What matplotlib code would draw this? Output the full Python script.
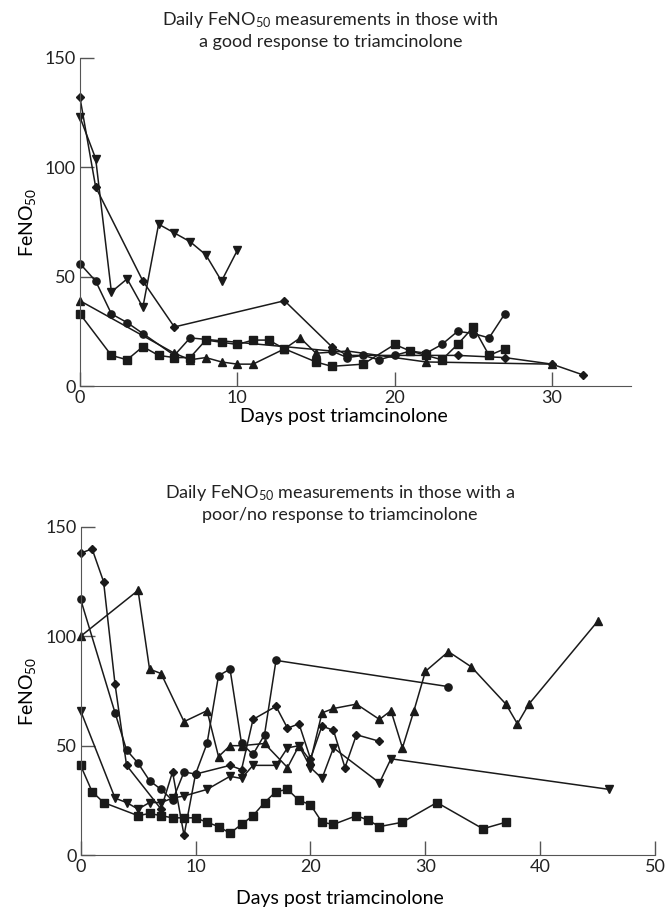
import matplotlib
matplotlib.use('Agg')
import matplotlib.pyplot as plt

plt.rcParams['font.family'] = ['Lato', 'DejaVu Sans']
plt.rcParams['mathtext.default'] = 'regular'

# ---------------- good response (top panel) ----------------
good_diamond_days = [0, 1, 4, 6, 13, 16, 17, 24, 27, 30, 32]
good_diamond_vals = [132, 91, 48, 27, 39, 18, 14, 14, 13, 10, 5]

good_tridown_days = [0, 1, 2, 3, 4, 5, 6, 7, 8, 9, 10]
good_tridown_vals = [123, 104, 43, 49, 36, 74, 70, 66, 60, 48, 62]

good_circle_days = [0, 1, 2, 3, 4, 6, 7, 16, 17, 18, 19, 20, 21, 22, 23, 24, 25, 26, 27]
good_circle_vals = [56, 48, 33, 29, 24, 14, 22, 16, 13, 14, 12, 14, 16, 15, 19, 25, 24, 22, 33]

good_triup_days = [0, 6, 7, 8, 9, 10, 11, 13, 14, 15, 17, 22, 30]
good_triup_vals = [39, 15, 12, 13, 11, 10, 10, 17, 22, 15, 16, 11, 10]

good_square_days = [0, 2, 3, 4, 5, 6, 7, 8, 9, 10, 11, 12, 13, 15, 16, 18, 20, 21, 22, 23, 24, 25, 26, 27]
good_square_vals = [33, 14, 12, 18, 14, 13, 13, 21, 20, 19, 21, 21, 17, 11, 9, 10, 19, 16, 14, 12, 19, 27, 14, 17]

# ---------------- poor/no response (bottom panel) ----------------
poor_diamond_days = [0, 1, 2, 3, 4, 7, 8, 9, 10, 13, 14, 15, 17, 18, 19, 20, 21, 22, 23, 24, 26]
poor_diamond_vals = [138, 140, 125, 78, 41, 21, 38, 9, 37, 41, 39, 62, 68, 58, 60, 44, 59, 57, 40, 55, 52]

poor_circle_days = [0, 3, 4, 5, 6, 7, 8, 9, 10, 11, 12, 13, 14, 15, 16, 17, 32]
poor_circle_vals = [117, 65, 48, 42, 34, 30, 25, 38, 37, 51, 82, 85, 51, 46, 55, 89, 77]

poor_triup_days = [0, 5, 6, 7, 9, 11, 12, 13, 14, 16, 18, 19, 20, 21, 22, 24, 26, 27, 28, 29, 30, 32, 34, 37, 38, 39, 45]
poor_triup_vals = [100, 121, 85, 83, 61, 66, 45, 50, 50, 51, 40, 50, 43, 65, 67, 69, 62, 66, 49, 66, 84, 93, 86, 69, 60, 69, 107]

poor_tridown_days = [0, 3, 4, 5, 6, 7, 8, 9, 11, 13, 14, 15, 17, 18, 19, 20, 21, 22, 26, 27, 46]
poor_tridown_vals = [66, 26, 24, 21, 24, 24, 26, 27, 30, 36, 35, 41, 41, 49, 50, 40, 35, 49, 33, 44, 30]

poor_square_days = [0, 1, 2, 5, 6, 7, 8, 9, 10, 11, 12, 13, 14, 15, 16, 17, 18, 19, 20, 21, 22, 24, 25, 26, 28, 31, 35, 37]
poor_square_vals = [41, 29, 24, 18, 19, 18, 17, 17, 17, 15, 13, 10, 14, 18, 24, 29, 30, 25, 23, 15, 14, 18, 16, 13, 15, 24, 12, 15]

top_title = 'Daily FeNO$_{50}$ measurements in those with\na good response to triamcinolone'
bottom_title = 'Daily FeNO$_{50}$ measurements in those with a\npoor/no response to triamcinolone'

fig = plt.figure(figsize=(6.66, 9.13), dpi=100)

lw = 1.1
ms = 5.2


def plot_series(ax, days, vals, marker, size):
    ax.plot(days, vals, color='#1a1a1a', lw=lw, marker=marker, markersize=size,
            markerfacecolor='#1a1a1a', markeredgecolor='#1a1a1a', clip_on=False)


def style_axes(ax, xmax, xticks, xlab_xy):
    ax.set_xlim(0, xmax)
    ax.set_ylim(0, 150)
    ax.set_xticks(xticks)
    ax.set_yticks([0, 50, 100, 150])
    for s in ['top', 'right']:
        ax.spines[s].set_visible(False)
    for s in ['left', 'bottom']:
        ax.spines[s].set_color('#555555')
    ax.tick_params(direction='in', length=10, width=1.0, color='#555555',
                   labelsize=13, pad=3, labelcolor='#222222')
    ax.set_ylabel('FeNO$_{50}$', fontsize=14, labelpad=5)
    ax.set_xlabel('Days post triamcinolone', fontsize=14)
    ax.xaxis.set_label_coords(*xlab_xy)


# top panel
ax1 = fig.add_axes([0.120, 0.5772, 0.827, 0.3593])
plot_series(ax1, good_tridown_days, good_tridown_vals, 'v', ms + 0.6)
plot_series(ax1, good_diamond_days, good_diamond_vals, 'D', ms - 1.2)
plot_series(ax1, good_circle_days, good_circle_vals, 'o', ms)
plot_series(ax1, good_triup_days, good_triup_vals, '^', ms + 0.6)
plot_series(ax1, good_square_days, good_square_vals, 's', ms)
style_axes(ax1, 35, [0, 10, 20, 30], (0.479, -0.066))
fig.text(0.496, 0.967, top_title, ha='center', va='center', fontsize=13,
         linespacing=1.3, color='#222222')

# bottom panel
ax2 = fig.add_axes([0.121, 0.0635, 0.863, 0.3593])
plot_series(ax2, poor_diamond_days, poor_diamond_vals, 'D', ms - 1.2)
plot_series(ax2, poor_circle_days, poor_circle_vals, 'o', ms)
plot_series(ax2, poor_triup_days, poor_triup_vals, '^', ms + 0.6)
plot_series(ax2, poor_tridown_days, poor_tridown_vals, 'v', ms + 0.6)
plot_series(ax2, poor_square_days, poor_square_vals, 's', ms)
style_axes(ax2, 50, [0, 10, 20, 30, 40, 50], (0.451, -0.107))
fig.text(0.51, 0.449, bottom_title, ha='center', va='center', fontsize=13,
         linespacing=1.3, color='#222222')

fig.savefig('out.png', dpi=100)
